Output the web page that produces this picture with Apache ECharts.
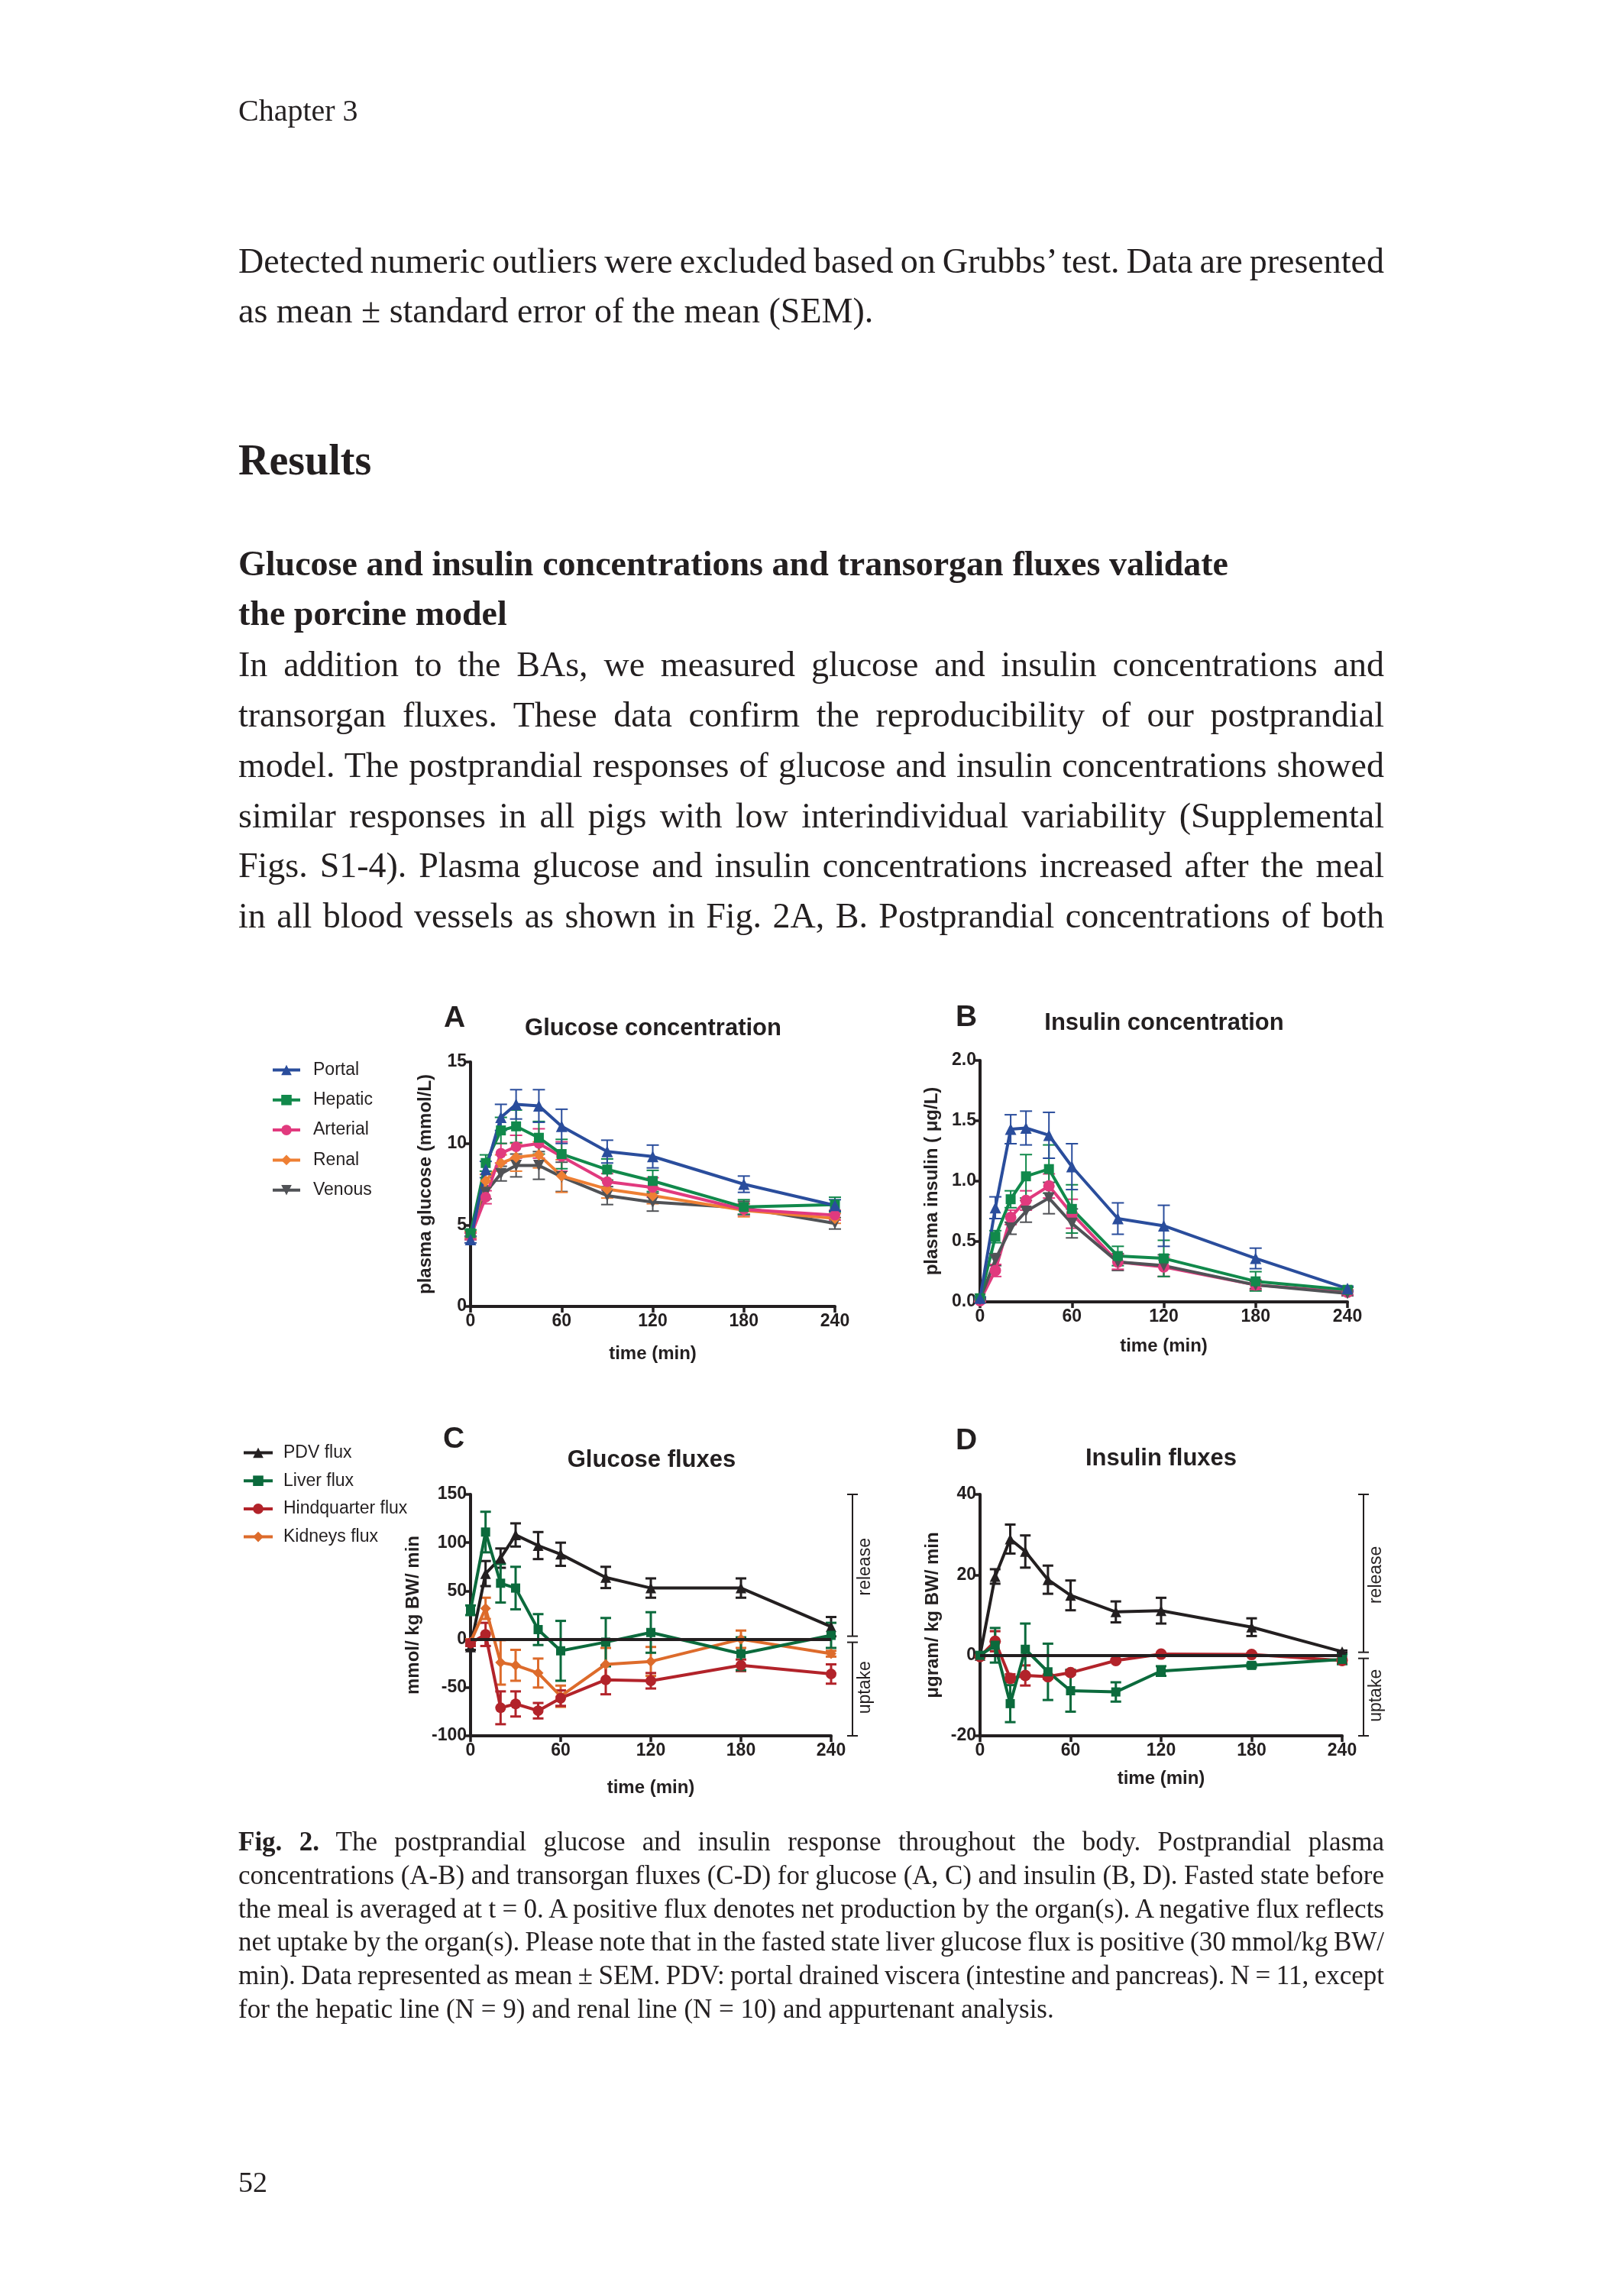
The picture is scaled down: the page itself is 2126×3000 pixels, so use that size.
<!DOCTYPE html>
<html><head><meta charset="utf-8">
<script src="https://cdn.jsdelivr.net/npm/echarts@6.0.0/dist/echarts.min.js"></script>
<style>
html,body{margin:0;padding:0;background:#fff;}
#page{position:relative;width:2126px;height:3000px;overflow:hidden;background:#fff;}
#chart{position:absolute;left:0;top:0;width:2126px;height:3000px;}
.t{position:absolute;left:312px;white-space:nowrap;display:inline-block;font-family:"Liberation Serif","DejaVu Serif",serif;color:#231f20;line-height:1.2;}
</style></head><body>
<div id="page">
<div id="chart"></div>
<div class="t" style="font-size:40px;top:121px;">Chapter 3</div>
<div class="t j" data-w="1500" style="font-size:46px;top:314px;">Detected numeric outliers were excluded based on Grubbs’ test. Data are presented</div>
<div class="t" style="font-size:46px;top:379px;">as mean ± standard error of the mean (SEM).</div>
<div class="t" style="font-size:56px;top:569px;font-weight:bold;">Results</div>
<div class="t j" data-w="1296" style="font-size:46px;top:710px;font-weight:bold;">Glucose and insulin concentrations and transorgan fluxes validate</div>
<div class="t" style="font-size:46px;top:775px;font-weight:bold;">the porcine model</div>
<div class="t j" data-w="1500" style="font-size:46px;top:842px;">In addition to the BAs, we measured glucose and insulin concentrations and</div>
<div class="t j" data-w="1500" style="font-size:46px;top:908px;">transorgan fluxes. These data confirm the reproducibility of our postprandial</div>
<div class="t j" data-w="1500" style="font-size:46px;top:974px;">model. The postprandial responses of glucose and insulin concentrations showed</div>
<div class="t j" data-w="1500" style="font-size:46px;top:1040px;">similar responses in all pigs with low interindividual variability (Supplemental</div>
<div class="t j" data-w="1500" style="font-size:46px;top:1105px;">Figs. S1-4). Plasma glucose and insulin concentrations increased after the meal</div>
<div class="t j" data-w="1500" style="font-size:46px;top:1171px;">in all blood vessels as shown in Fig. 2A, B. Postprandial concentrations of both</div>
<div class="t j" data-w="1500" style="font-size:35px;top:2390px;"><b>Fig. 2.</b> The postprandial glucose and insulin response throughout the body. Postprandial plasma</div>
<div class="t j" data-w="1500" style="font-size:35px;top:2434px;">concentrations (A-B) and transorgan fluxes (C-D) for glucose (A, C) and insulin (B, D). Fasted state before</div>
<div class="t j" data-w="1500" style="font-size:35px;top:2478px;">the meal is averaged at t = 0. A positive flux denotes net production by the organ(s). A negative flux reflects</div>
<div class="t j" data-w="1500" style="font-size:35px;top:2521px;">net uptake by the organ(s). Please note that in the fasted state liver glucose flux is positive (30 mmol/kg BW/</div>
<div class="t j" data-w="1500" style="font-size:35px;top:2565px;">min). Data represented as mean ± SEM. PDV: portal drained viscera (intestine and pancreas). N = 11, except</div>
<div class="t" style="font-size:35px;top:2609px;">for the hepatic line (N = 9) and renal line (N = 10) and appurtenant analysis.</div>
<div class="t" style="font-size:38px;top:2834px;">52</div>
</div>
<script>
// ---------------- data ----------------
const times = [0, 10, 20, 30, 45, 60, 90, 120, 180, 240];
const xTicks = [0, 60, 120, 180, 240];

// A: glucose concentration (mmol/L)
const portalGlu     = [4.1, 8.4, 11.6, 12.4, 12.3, 11.05, 9.5, 9.2, 7.5, 6.2];
const portalGluSem  = [0.2, 0.5, 0.8, 0.9, 1.0, 1.05, 0.7, 0.7, 0.5, 0.35];
const hepaticGlu    = [4.5, 8.8, 10.8, 11.05, 10.35, 9.35, 8.4, 7.7, 6.1, 6.25];
const hepaticGluSem = [0.2, 0.5, 0.8, 1.0, 1.0, 0.9, 0.65, 0.65, 0.45, 0.45];
const arterialGlu   = [4.3, 6.7, 9.4, 9.8, 10.0, 9.2, 7.65, 7.3, 5.95, 5.6];
const arterialGluSem= [0.2, 0.4, 0.6, 0.7, 0.9, 0.9, 0.5, 0.6, 0.35, 0.3];
const renalGlu      = [4.4, 7.7, 8.8, 9.15, 9.3, 8.0, 7.2, 6.8, 5.9, 5.4];
const renalGluSem   = [0.2, 0.4, 0.5, 0.85, 0.8, 1.0, 0.55, 0.5, 0.4, 0.3];
const venousGlu     = [4.3, 7.0, 8.15, 8.65, 8.65, 7.95, 6.8, 6.4, 6.05, 5.1];
const venousGluSem  = [0.2, 0.4, 0.45, 0.7, 0.85, 0.9, 0.55, 0.55, 0.4, 0.35];

// B: insulin concentration (ug/L)
const portalIns     = [0.03, 0.78, 1.43, 1.44, 1.38, 1.12, 0.69, 0.63, 0.36, 0.11];
const portalInsSem  = [0.01, 0.09, 0.12, 0.14, 0.19, 0.19, 0.13, 0.17, 0.085, 0.02];
const hepaticIns    = [0.03, 0.54, 0.85, 1.04, 1.10, 0.77, 0.38, 0.36, 0.17, 0.10];
const hepaticInsSem = [0.01, 0.05, 0.07, 0.18, 0.20, 0.20, 0.08, 0.15, 0.08, 0.02];
const arterialIns   = [0.01, 0.26, 0.70, 0.84, 0.96, 0.73, 0.33, 0.29, 0.14, 0.08];
const arterialInsSem= [0.01, 0.05, 0.06, 0.08, 0.10, 0.12, 0.06, 0.08, 0.04, 0.02];
const venousIns     = [0.02, 0.35, 0.61, 0.75, 0.86, 0.65, 0.33, 0.30, 0.14, 0.07];
const venousInsSem  = [0.01, 0.05, 0.05, 0.09, 0.13, 0.12, 0.07, 0.09, 0.03, 0.02];

// C: glucose fluxes (mmol/kg BW/min)
const pdvGlu        = [-8, 68, 84, 108, 97, 88, 64, 53, 53, 13];
const pdvGluSem     = [3, 13, 10, 12, 14, 12, 11, 10, 10, 10];
const liverGlu      = [30, 111, 58, 53, 10, -12, -3, 7, -15, 4];
const liverGluSem   = [5, 21, 20, 22, 16, 31, 25, 21, 17, 13];
const hindGlu       = [-4, 5, -71, -67, -74, -61, -42, -43, -27, -36];
const hindGluSem    = [3, 12, 17, 13, 8, 8, 15, 8, 6, 10];
const kidneyGlu     = [-3, 32, -24, -27, -35, -59, -26, -23, 0, -15];
const kidneyGluSem  = [3, 11, 23, 16, 15, 11, 17, 15, 9, 3];

// D: insulin fluxes (ugram/kg BW/min)
const pdvIns        = [0, 19.6, 28.9, 25.8, 18.8, 14.9, 10.8, 11.1, 7.0, 0.9];
const pdvInsSem     = [0.3, 1.8, 3.6, 4.0, 3.5, 3.7, 2.6, 3.2, 2.2, 0.3];
const liverIns      = [0, 2.5, -12, 1.5, -4.1, -8.8, -9.1, -3.9, -2.5, -1.0];
const liverInsSem   = [0.3, 4.3, 4.6, 6.4, 7.0, 5.2, 2.4, 1.2, 0.5, 1.2];
const hindIns       = [-0.3, 3.5, -5.7, -5.0, -5.3, -4.3, -1.3, 0.3, 0.2, -1.3];
const hindInsSem    = [0.2, 2.5, 1.0, 2.5, 0.5, 0.5, 0.3, 0.3, 0.3, 0.5];

// bracket extents (release / uptake) for flux panels
const bracketC = [150, 0, -100];
const bracketD = [40, 0, -20];

// ---------------- styling ----------------
const SANS = '"Liberation Sans", Arial, sans-serif';
const INK = '#231f20';
const C_PORTAL = '#2a4d9c', C_HEP = '#11894b', C_ART = '#e13a7e', C_REN = '#ee7f33', C_VEN = '#505256';
const C_PDV = '#231f20', C_LIV = '#0b6a3c', C_HIND = '#b2232a', C_KID = '#dd6b2b';
const TRI = 'triangle', SQ = 'rect', CIR = 'circle', DIA = 'diamond';
const DOWN = 'path://M0,0 L10,0 L5,9 Z';

function pts(vals){ return times.map((t,i)=>[t, vals[i]]); }
function errs(vals, sem){ return times.map((t,i)=>[t, vals[i]-sem[i], vals[i]+sem[i]]); }

function line(name, vals, color, symbol, gi, size, z){
  return {type:'line', name:name, data:pts(vals), xAxisIndex:gi, yAxisIndex:gi,
    symbol:symbol, symbolSize:size||14, showSymbol:true,
    lineStyle:{color:color, width:4}, itemStyle:{color:color},
    z: z||3, animation:false, emphasis:{disabled:true}};
}
function errBar(vals, sem, color, gi, w, cap){
  return {type:'custom', name:'_err', data:errs(vals, sem), xAxisIndex:gi, yAxisIndex:gi,
    encode:{x:0, y:[1,2]}, z:2, animation:false, silent:true,
    renderItem:function(params, api){
      const x = api.value(0), lo = api.value(1), hi = api.value(2);
      const a = api.coord([x, lo]), b = api.coord([x, hi]);
      const st = {stroke:color, lineWidth:w};
      return {type:'group', children:[
        {type:'line', shape:{x1:a[0],y1:a[1],x2:b[0],y2:b[1]}, style:st},
        {type:'line', shape:{x1:b[0]-cap,y1:b[1],x2:b[0]+cap,y2:b[1]}, style:st},
        {type:'line', shape:{x1:a[0]-cap,y1:a[1],x2:a[0]+cap,y2:a[1]}, style:st}
      ]};
    }};
}
function bracket(ext, gi, off){
  return {type:'custom', name:'_br', data:[[240, ext[0], ext[1], ext[2]]], xAxisIndex:gi, yAxisIndex:gi,
    encode:{x:0, y:[1,3]}, z:2, animation:false, silent:true, clip:false,
    renderItem:function(params, api){
      const t = api.coord([api.value(0), api.value(1)]);
      const m = api.coord([api.value(0), api.value(2)]);
      const b = api.coord([api.value(0), api.value(3)]);
      const x = t[0] + off, cap = 7;
      const st = {stroke:INK, lineWidth:2};
      const tf = '23px ' + SANS;
      return {type:'group', children:[
        {type:'line', shape:{x1:x,y1:t[1],x2:x,y2:m[1]-4}, style:st},
        {type:'line', shape:{x1:x-cap,y1:t[1],x2:x+cap,y2:t[1]}, style:st},
        {type:'line', shape:{x1:x-cap,y1:m[1]-4,x2:x+cap,y2:m[1]-4}, style:st},
        {type:'line', shape:{x1:x,y1:m[1]+4,x2:x,y2:b[1]}, style:st},
        {type:'line', shape:{x1:x-cap,y1:m[1]+4,x2:x+cap,y2:m[1]+4}, style:st},
        {type:'line', shape:{x1:x-cap,y1:b[1],x2:x+cap,y2:b[1]}, style:st},
        {type:'text', x:x+17, y:(t[1]+m[1])/2, rotation:Math.PI/2,
          style:{text:'release', font:tf, fill:INK, align:'center', verticalAlign:'middle'}},
        {type:'text', x:x+17, y:(m[1]+b[1])/2, rotation:Math.PI/2,
          style:{text:'uptake', font:tf, fill:INK, align:'center', verticalAlign:'middle'}}
      ]};
    }};
}

const grids = [
  {left:616, top:1390, width:477, height:320},
  {left:1283, top:1388, width:481, height:316},
  {left:616, top:1956, width:472, height:316},
  {left:1283, top:1956, width:474, height:316}
].map(g=>Object.assign({outerBoundsMode:'none', containLabel:false}, g));

function xAx(gi, gap){
  return {gridIndex:gi, type:'value', min:xTicks[0], max:xTicks[xTicks.length-1], interval:xTicks[1]-xTicks[0],
    name:'time (min)', nameLocation:'middle', nameGap:gap,
    nameTextStyle:{fontSize:24, fontWeight:'bold', fontFamily:SANS, color:INK},
    axisLine:{show:true, onZero:false, lineStyle:{color:INK, width:4}},
    axisTick:{show:true, length:8, lineStyle:{color:INK, width:3.5}},
    axisLabel:{fontSize:23, fontWeight:'bold', fontFamily:SANS, color:INK, margin:8},
    splitLine:{show:false}};
}
function yAx(gi, min, max, interval, name, gap, fmt){
  return {gridIndex:gi, type:'value', min:min, max:max, interval:interval,
    name:name, nameLocation:'middle', nameGap:gap, nameRotate:90,
    nameTextStyle:{fontSize:24, fontWeight:'bold', fontFamily:SANS, color:INK},
    axisLine:{show:true, onZero:false, lineStyle:{color:INK, width:4}},
    axisTick:{show:true, length:8, lineStyle:{color:INK, width:3.5}},
    axisLabel:{fontSize:23, fontWeight:'bold', fontFamily:SANS, color:INK, margin:5, formatter:fmt},
    splitLine:{show:false}};
}

function gtext(x, y, text, size, weight){
  return {type:'text', x:x, y:y, silent:true,
    style:{text:text, font:(weight||'bold')+' '+size+'px '+SANS, fill:INK, align:'center', verticalAlign:'middle'}};
}

function zeroLine(){
  return {silent:true, symbol:['none','none'], label:{show:false}, animation:false,
    lineStyle:{color:INK, width:4, type:'solid'}, emphasis:{disabled:true},
    data:[[{coord:[xTicks[0], 0]}, {coord:[xTicks[xTicks.length-1], 0]}]]};
}

const series = [
  // A
  errBar(venousGlu, venousGluSem, C_VEN, 0, 2, 8),
  errBar(renalGlu, renalGluSem, C_REN, 0, 2, 8),
  errBar(arterialGlu, arterialGluSem, C_ART, 0, 2, 8),
  errBar(hepaticGlu, hepaticGluSem, C_HEP, 0, 2, 8),
  errBar(portalGlu, portalGluSem, C_PORTAL, 0, 2, 8),
  line('Venous', venousGlu, C_VEN, DOWN, 0, 15, 3),
  line('Renal', renalGlu, C_REN, DIA, 0, 15, 3),
  line('Arterial', arterialGlu, C_ART, CIR, 0, 14, 3),
  line('Hepatic', hepaticGlu, C_HEP, SQ, 0, 13, 3),
  line('Portal', portalGlu, C_PORTAL, TRI, 0, 15, 3),
  // B
  errBar(venousIns, venousInsSem, C_VEN, 1, 2, 8),
  errBar(arterialIns, arterialInsSem, C_ART, 1, 2, 8),
  errBar(hepaticIns, hepaticInsSem, C_HEP, 1, 2, 8),
  errBar(portalIns, portalInsSem, C_PORTAL, 1, 2, 8),
  line('Arterial', arterialIns, C_ART, CIR, 1, 15, 3),
  line('Venous', venousIns, C_VEN, DOWN, 1, 15, 3),
  line('Hepatic', hepaticIns, C_HEP, SQ, 1, 13, 3),
  line('Portal', portalIns, C_PORTAL, TRI, 1, 15, 3),
  // C
  bracket(bracketC, 2, 28),
  errBar(pdvGlu, pdvGluSem, C_PDV, 2, 3, 7),
  errBar(kidneyGlu, kidneyGluSem, C_KID, 2, 3, 7),
  errBar(hindGlu, hindGluSem, C_HIND, 2, 3, 7),
  errBar(liverGlu, liverGluSem, C_LIV, 2, 3, 7),
  Object.assign(line('PDV flux', pdvGlu, C_PDV, TRI, 2, 14, 3), {markLine:zeroLine()}),
  line('Kidneys flux', kidneyGlu, C_KID, DIA, 2, 14, 3),
  line('Hindquarter flux', hindGlu, C_HIND, CIR, 2, 14, 3),
  line('Liver flux', liverGlu, C_LIV, SQ, 2, 12, 3),
  // D
  bracket(bracketD, 3, 28),
  errBar(pdvIns, pdvInsSem, C_PDV, 3, 3, 7),
  errBar(hindIns, hindInsSem, C_HIND, 3, 3, 7),
  errBar(liverIns, liverInsSem, C_LIV, 3, 3, 7),
  Object.assign(line('PDV flux', pdvIns, C_PDV, TRI, 3, 14, 3), {markLine:zeroLine()}),
  line('Hindquarter flux', hindIns, C_HIND, CIR, 3, 15, 3),
  line('Liver flux', liverIns, C_LIV, SQ, 3, 12, 3)
];

const option = {
  animation:false,
  backgroundColor:'transparent',
  grid: grids,
  xAxis: [xAx(0, 50), xAx(1, 46), xAx(2, 56), xAx(3, 44)],
  yAxis: [
    yAx(0, 0, 15, 5, 'plasma glucose (mmol/L)', 47),
    yAx(1, 0, 2, 0.5, 'plasma insulin ( \u03bcg/L)', 51, v=>v.toFixed(1)),
    yAx(2, -100, 150, 50, 'mmol/ kg BW/ min', 63),
    yAx(3, -20, 40, 20, '\u03bcgram/ kg BW/ min', 50)
  ],
  legend: [
    {data:['Portal','Hepatic','Arterial','Renal','Venous'], orient:'vertical', left:350, top:1384,
     itemWidth:36, itemHeight:17, itemGap:16.3, selectedMode:false,
     lineStyle:{width:4},
     textStyle:{fontSize:23, fontFamily:SANS, color:INK, lineHeight:23, padding:[0,0,0,12]}},
    {data:['PDV flux','Liver flux','Hindquarter flux','Kidneys flux'], orient:'vertical', left:312, top:1885,
     itemWidth:38, itemHeight:17, itemGap:13.7, selectedMode:false,
     lineStyle:{width:4},
     textStyle:{fontSize:23, fontFamily:SANS, color:INK, lineHeight:23, padding:[0,0,0,9]}}
  ],
  graphic: [
    gtext(595, 1333, 'A', 39), gtext(855, 1346, 'Glucose concentration', 31),
    gtext(1265, 1332, 'B', 39), gtext(1524, 1339, 'Insulin concentration', 31),
    gtext(594, 1884, 'C', 39), gtext(853, 1911, 'Glucose fluxes', 31),
    gtext(1265, 1886, 'D', 39), gtext(1520, 1909, 'Insulin fluxes', 31)
  ],
  series: series
};

const chart = echarts.init(document.getElementById('chart'), null, {renderer:'canvas'});
chart.setOption(option);

// justify text lines to their measured widths
function fit(){
  document.querySelectorAll('.j').forEach(el=>{
    el.style.wordSpacing = '0px';
    const w = el.getBoundingClientRect().width;
    const n = (el.textContent.match(/ /g)||[]).length;
    if(n>0) el.style.wordSpacing = ((+el.dataset.w - w)/n) + 'px';
  });
}
fit();
if(document.fonts && document.fonts.ready) document.fonts.ready.then(fit);
</script>
</body></html>
